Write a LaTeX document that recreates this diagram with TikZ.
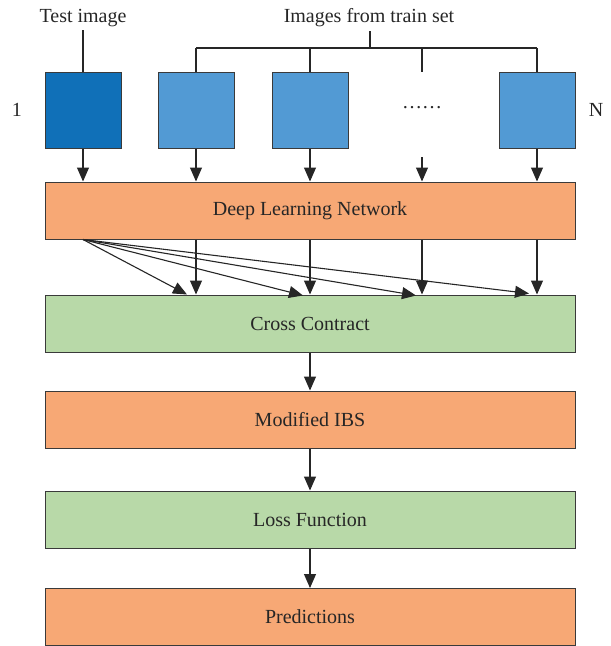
\documentclass[tikz,border=0pt]{standalone}
\usepackage{fontspec}
\setmainfont{Liberation Serif}
\usetikzlibrary{arrows.meta,calc}
\definecolor{darkblue}{HTML}{1070B8}
\definecolor{lightblue}{HTML}{529AD4}
\definecolor{orangebox}{HTML}{F7A875}
\definecolor{greenbox}{HTML}{B8D9A8}
\definecolor{edge}{HTML}{3A3A3A}
\begin{document}
\begin{tikzpicture}[x=1pt,y=-1pt,
  every node/.style={font=\fontsize{20}{24}\selectfont, text=black!85},
  imgbox/.style={draw=edge, line width=1pt, minimum width=76pt, minimum height=76pt, inner sep=0pt},
  widebox/.style={draw=edge, line width=1pt, minimum width=530pt, minimum height=57pt, inner sep=0pt},
  conn/.style={draw=black!85, line width=1.1pt},
  arr/.style={conn, -{Triangle[width=12pt,length=14pt]}}
]
\useasboundingbox (0,0) rectangle (611,646);
% top labels
\node (test) at (83,18) {Test image};
\node (train) at (369,18) {Images from train set};
% image boxes
\node[imgbox, fill=darkblue] (b1) at (83,110) {};
\node[imgbox, fill=lightblue] (b2) at (196,110) {};
\node[imgbox, fill=lightblue] (b3) at (310,110) {};
\node (dots) at (422,108) {……};
\node[imgbox, fill=lightblue] (b5) at (537,110) {};
\node (one) at (17,110) {1};
\node (nn) at (596,110) {N};
% wide boxes
\node[widebox, fill=orangebox] (dln) at (310,210.5) {Deep Learning Network};
\node[widebox, fill=greenbox] (cc) at (310,323.5) {Cross Contract};
\node[widebox, fill=orangebox] (mib) at (310,419.5) {Modified IBS};
\node[widebox, fill=greenbox] (lf) at (310,519.5) {Loss Function};
\node[widebox, fill=orangebox] (pr) at (310,617) {Predictions};
% bracket
\coordinate (bt) at (370,48);
\coordinate (bl) at (196,48);
\coordinate (br) at (537,48);
\coordinate (bd) at (422,48);
\coordinate (de) at (422,72);
\coordinate (ds) at (422,157);
\draw[conn] (test.south) -- (b1.north);
\draw[conn] (370,31) -- (bt);
\draw[conn] (bl) -- (br);
\draw[conn] (bl) -- (b2.north);
\draw[conn] (b3.north |- bl) -- (b3.north);
\draw[conn] (br) -- (b5.north);
\draw[conn] (bd) -- (de);
% arrows into DLN
\foreach \b in {b1,b2,b3,b5}
  \draw[arr] (\b.south) -- (\b.south |- dln.north);
\draw[arr] (ds) -- (ds |- dln.north);
% DLN to CC verticals
\foreach \b in {b2,b3,ds,b5}
  \draw[arr] (dln.south -| \b) -- (cc.north -| \b);
% diagonals
\coordinate (src) at (dln.south -| b1);
\draw[arr] (src) -- ($(cc.north -| b2)+(-9,0)$);
\draw[arr] (src) -- ($(cc.north -| b3)+(-7,1)$);
\draw[arr] (src) -- ($(cc.north -| ds)+(-6,1)$);
\draw[arr] (src) -- ($(cc.north -| b5)+(-8,-1)$);
% chain
\draw[arr] (cc.south) -- (mib.north);
\draw[arr] (mib.south) -- (lf.north);
\draw[arr] (lf.south) -- (pr.north);
\end{tikzpicture}
\end{document}
